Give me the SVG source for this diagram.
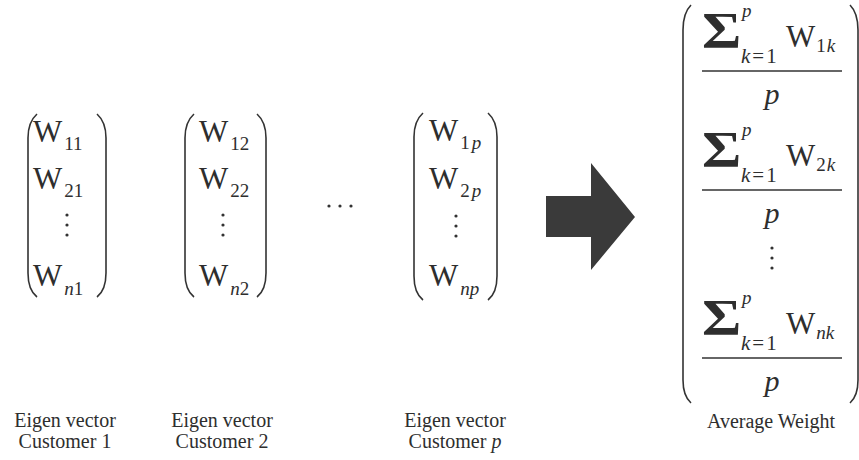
<svg xmlns="http://www.w3.org/2000/svg" width="859" height="460" viewBox="0 0 859 460" font-family="'Liberation Serif', 'Times New Roman', serif">
  <style>
    text, tspan { font-family: "Liberation Serif", "Times New Roman", serif; }
    text { fill: #2e2e2e; }
    .w { font-size: 31px; }
    .sub { font-size: 19px; }
    .it { font-style: italic; }
    .lbl { font-size: 20px; text-anchor: middle; }
    .den { font-size: 30px; font-style: italic; text-anchor: middle; }
    .sig { font-size: 50px; font-weight: bold; }
    .paren { fill: none; stroke: #333; stroke-width: 1.6; }
    .bar { stroke: #333; stroke-width: 1.4; }
    .dot { fill: #333; }
  </style>
  <defs>
    <!-- column vector entries share the same rows -->
    <g id="vdots">
      <circle cx="0" cy="0" r="1.6" class="dot"/>
      <circle cx="0" cy="10" r="1.6" class="dot"/>
      <circle cx="0" cy="20" r="1.6" class="dot"/>
    </g>
    <g id="sigma">
      <text class="sig" x="0" y="0" transform="scale(1.2,1)">Σ</text>
    </g>
  </defs>

  <!-- eigen vector of customer 1 -->
  <g id="vec1">
    <path class="paren" d="M37,114 Q28,122 28,138 L28,273 Q28,290 37,297"/>
    <path class="paren" d="M97,114 Q106,122 106,138 L106,273 Q106,290 97,297"/>
    <text class="w" x="33" y="142">W<tspan class="sub" dx="2" dy="8">11</tspan></text>
    <text class="w" x="33" y="189">W<tspan class="sub" dx="2" dy="8">21</tspan></text>
    <use href="#vdots" x="67" y="215"/>
    <text class="w" x="33" y="286">W<tspan class="sub it" dx="2" dy="9">n</tspan><tspan class="sub">1</tspan></text>
    <text class="lbl" x="65" y="427">Eigen vector</text>
    <text class="lbl" x="65" y="448">Customer 1</text>
  </g>

  <!-- eigen vector of customer 2 -->
  <g id="vec2">
    <path class="paren" d="M194,114 Q185,122 185,138 L185,273 Q185,290 194,297"/>
    <path class="paren" d="M257,114 Q266,122 266,138 L266,273 Q266,290 257,297"/>
    <text class="w" x="199" y="142">W<tspan class="sub" dx="2" dy="8">12</tspan></text>
    <text class="w" x="199" y="189">W<tspan class="sub" dx="2" dy="8">22</tspan></text>
    <use href="#vdots" x="223" y="215"/>
    <text class="w" x="199" y="286">W<tspan class="sub it" dx="2" dy="9">n</tspan><tspan class="sub">2</tspan></text>
    <text class="lbl" x="222" y="427">Eigen vector</text>
    <text class="lbl" x="222" y="448">Customer 2</text>
  </g>

  <!-- ellipsis between vectors -->
  <g id="ellipsis">
    <circle cx="329" cy="206" r="1.6" class="dot"/>
    <circle cx="340" cy="206" r="1.6" class="dot"/>
    <circle cx="351" cy="206" r="1.6" class="dot"/>
  </g>

  <!-- eigen vector of customer p -->
  <g id="vecp">
    <path class="paren" d="M423,113 Q414,121 414,137 L414,276 Q414,293 423,300"/>
    <path class="paren" d="M488,113 Q497,121 497,137 L497,276 Q497,293 488,300"/>
    <text class="w" x="429" y="141">W<tspan class="sub" dx="2" dy="8">1</tspan><tspan class="sub it" dx="2">p</tspan></text>
    <text class="w" x="429" y="189">W<tspan class="sub" dx="2" dy="8">2</tspan><tspan class="sub it" dx="2">p</tspan></text>
    <use href="#vdots" x="456" y="216"/>
    <text class="w" x="429" y="286">W<tspan class="sub it" dx="2" dy="9">np</tspan></text>
    <text class="lbl" x="455" y="427">Eigen vector</text>
    <text class="lbl" x="455" y="448">Customer <tspan class="it">p</tspan></text>
  </g>

  <!-- block arrow -->
  <g id="arrow">
    <polygon points="546,196 591,196 591,163 635,217 591,270 591,237 546,237" fill="#3a3a3a"/>
  </g>

  <!-- averaged weight vector -->
  <g id="avg">
    <path class="paren" d="M691,5 Q683,13 683,30 L683,380 Q683,396 691,403"/>
    <path class="paren" d="M850,5 Q858,13 858,30 L858,380 Q858,396 850,403"/>

    <g id="row1">
      <use href="#sigma" transform="translate(702,47)"/>
      <text class="sub it" x="742" y="17">p</text>
      <text style="font-size:21px" x="741" y="63"><tspan class="it">k</tspan><tspan dx="2">=</tspan><tspan dx="2">1</tspan></text>
      <text class="w" x="786" y="47">W<tspan class="sub" dx="1" dy="5">1</tspan><tspan class="sub it" dx="1">k</tspan></text>
      <line class="bar" x1="702" y1="71" x2="842" y2="71"/>
      <text class="den" x="772" y="104">p</text>
    </g>

    <g id="row2" transform="translate(0,119)">
      <use href="#sigma" transform="translate(702,47)"/>
      <text class="sub it" x="742" y="17">p</text>
      <text style="font-size:21px" x="741" y="63"><tspan class="it">k</tspan><tspan dx="2">=</tspan><tspan dx="2">1</tspan></text>
      <text class="w" x="786" y="47">W<tspan class="sub" dx="1" dy="5">2</tspan><tspan class="sub it" dx="1">k</tspan></text>
      <line class="bar" x1="702" y1="71" x2="842" y2="71"/>
      <text class="den" x="772" y="104">p</text>
    </g>

    <use href="#vdots" x="772" y="248"/>

    <g id="rown" transform="translate(0,287)">
      <use href="#sigma" transform="translate(702,47)"/>
      <text class="sub it" x="742" y="17">p</text>
      <text style="font-size:21px" x="741" y="63"><tspan class="it">k</tspan><tspan dx="2">=</tspan><tspan dx="2">1</tspan></text>
      <text class="w" x="786" y="47">W<tspan class="sub it" dx="1" dy="5">nk</tspan></text>
      <line class="bar" x1="702" y1="71" x2="842" y2="71"/>
      <text class="den" x="772" y="104">p</text>
    </g>

    <text class="lbl" x="771" y="428">Average Weight</text>
  </g>
</svg>
